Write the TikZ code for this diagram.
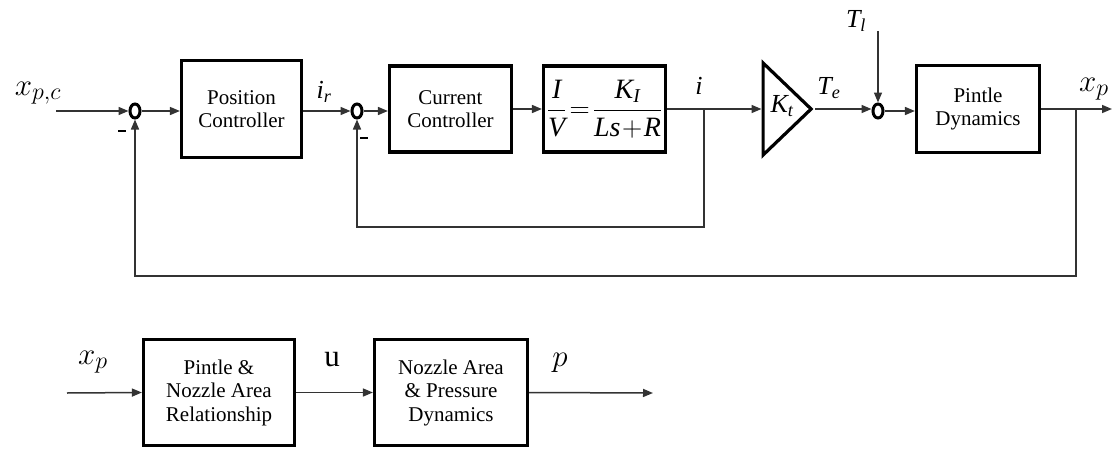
\documentclass[tikz,border=0pt]{standalone}
\usepackage{fix-cm}
\usepackage{amsmath}
\usepackage{fontspec}
\setmainfont{Liberation Serif}
\usetikzlibrary{arrows.meta,shapes.geometric}
\DeclareMathSizes{31}{31}{24}{18}
\begin{document}
\begin{tikzpicture}[x=1pt,y=-1pt,
  blk/.style={draw=black,line width=3.2pt,inner sep=0pt,align=center,font=\fontsize{21}{23.5}\selectfont},
  sumn/.style={draw=black,ellipse,line width=3pt,minimum width=10pt,minimum height=14pt,inner sep=0pt},
  conn/.style={draw=black!80,line width=1.5pt,-{Triangle[length=10pt,width=8pt]}},
  line/.style={draw=black!80,line width=1.5pt},
  minus/.style={fill=black,minimum width=8pt,minimum height=2.6pt,inner sep=0pt},
  mlab/.style={inner sep=0pt,font=\fontsize{31}{34}\selectfont},
  tlab/.style={inner sep=0pt,font=\fontsize{26}{29}\selectfont}]
\useasboundingbox (0,0) rectangle (1119,452);
% --- top loop ---
\node[sumn] (s1) at (135,111) {};
\node[blk,minimum width=120pt,minimum height=97pt] (pc) at (241.5,109) {Position\\Controller};
\node[sumn] (s2) at (357,111) {};
\node[blk,minimum width=122pt,minimum height=86pt] (cc) at (450.5,109) {Current\\Controller};
\node[blk,minimum width=122pt,minimum height=86pt,font=\fontsize{28}{30}\selectfont] (tf) at (604.5,109)
  {$\dfrac{\textit{I}}{\textit{V}}\!=\!\dfrac{\textit{K}_{\textit{I}}}{\textit{Ls}\!+\!\textit{R}}$};
\node[draw=black,line width=3.2pt,isosceles triangle,isosceles triangle stretches,
  minimum width=92pt,minimum height=48pt,inner sep=0pt,anchor=west] (kt) at (761.5,109) {};
\node[tlab] (ktl) at (782,106) {$\textit{K}_{\textit{t}}$};
\node[sumn] (s3) at (878,111) {};
\node[blk,minimum width=123pt,minimum height=87pt] (pd) at (978,109) {Pintle\\Dynamics};

\coordinate (in1) at (56,111);
\coordinate (b1) at (704,109);
\coordinate (fb1) at (704,227);
\coordinate (b2) at (1076,109);
\coordinate (fb2) at (1076,276);
\coordinate (out1) at (1112,109);
\coordinate (tl) at (878,31);

\draw[conn] (in1) -- (s1.west);
\draw[conn] (s1.east) -- (s1.east -| pc.west);
\draw[conn] (pc.east |- s2.west) -- (s2.west);
\draw[conn] (s2.east) -- (s2.east -| cc.west);
\draw[conn] (cc.east) -- (tf.west);
\draw[line] (tf.east) -- (b1);
\draw[conn] (b1) -- (kt.west);
\draw[conn] (kt.apex) -- (kt.apex -| s3.west);
\draw[conn] (tl) -- (s3.north);
\draw[conn] (s3.east) -- (s3.east -| pd.west);
\draw[line] (pd.east) -- (b2);
\draw[conn] (b2) -- (out1);
\draw[conn] (b1) -- (fb1) -| (s2.south);
\draw[conn] (b2) -- (fb2) -| (s1.south);

\node[minus] (m1) at (122,131) {};
\node[minus] (m2) at (364,138) {};

\node[mlab] (lxpc) at (38,93) {$x_{p,c}$};
\node[tlab] (lir) at (324,92) {$\textit{i}_{\textit{r}}$};
\node[tlab] (li) at (699,86) {\textit{i}};
\node[tlab] (lte) at (829,88) {$\textit{T}_{\textit{e}}$};
\node[tlab] (ltl) at (856,21) {$\textit{T}_{\textit{l}}$};
\node[mlab] (lxp) at (1094,89) {$x_p$};

% --- bottom chain ---
\node[blk,minimum width=151pt,minimum height=106pt] (r1) at (219,392.5) {Pintle \&\\Nozzle Area\\Relationship};
\node[blk,minimum width=153pt,minimum height=106pt] (r2) at (451,392.5) {Nozzle Area\\\& Pressure\\Dynamics};
\coordinate (in2) at (67,393);
\coordinate (out2) at (653,393);
\draw[conn] (in2) -- (r1.west);
\draw[conn] (r1.east) -- (r2.west);
\draw[conn] (r2.east) -- (out2);
\node[mlab] (lxp2) at (93,362) {$x_p$};
\node[mlab] (lu) at (332,360) {u};
\node[mlab] (lp) at (560,363) {$p$};
\end{tikzpicture}
\end{document}
